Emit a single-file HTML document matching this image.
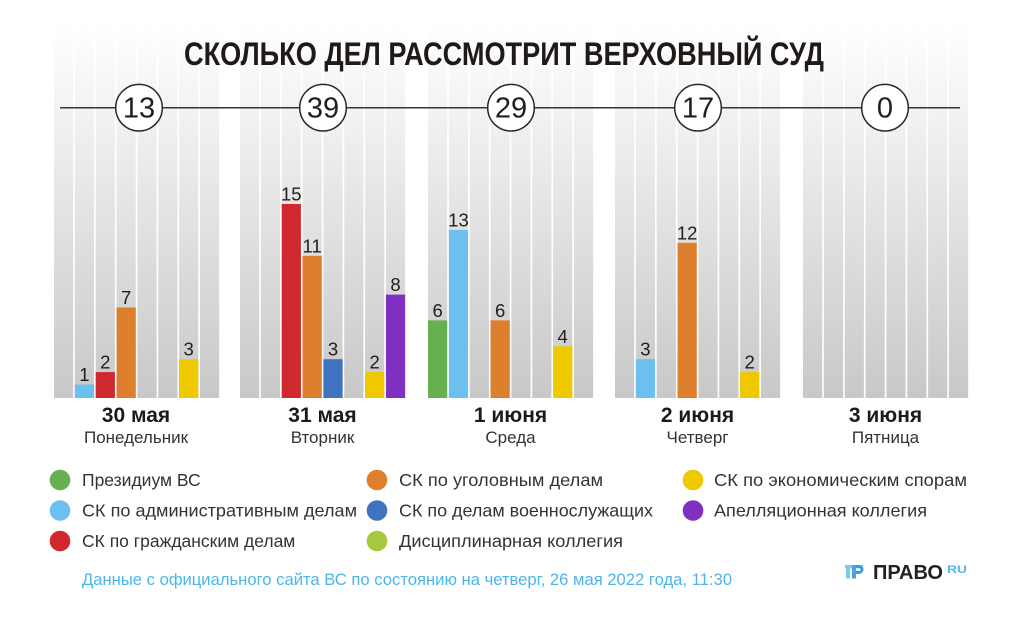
<!DOCTYPE html>
<html><head><meta charset="utf-8"><style>
html,body{margin:0;padding:0;background:#fff;}
svg{display:block;}
text{font-family:"Liberation Sans","Noto Sans CJK SC",sans-serif;}
</style></head><body>
<svg width="1024" height="622" viewBox="0 0 1024 622" xmlns="http://www.w3.org/2000/svg">
<defs>
<linearGradient id="bg" gradientUnits="userSpaceOnUse" x1="0" y1="24" x2="0" y2="398">
<stop offset="0" stop-color="#ffffff"/>
<stop offset="1" stop-color="#c8c8c8"/>
</linearGradient>
</defs>
<rect width="1024" height="622" fill="#fff"/>
<g fill="url(#bg)">
<rect x="54" y="24" width="19.2" height="374"/><rect x="74.85" y="24" width="19.2" height="374"/><rect x="95.7" y="24" width="19.2" height="374"/><rect x="116.55" y="24" width="19.2" height="374"/><rect x="137.4" y="24" width="19.2" height="374"/><rect x="158.25" y="24" width="19.2" height="374"/><rect x="179.1" y="24" width="19.2" height="374"/><rect x="199.95" y="24" width="19.2" height="374"/>
<rect x="240" y="24" width="19.2" height="374"/><rect x="260.85" y="24" width="19.2" height="374"/><rect x="281.7" y="24" width="19.2" height="374"/><rect x="302.55" y="24" width="19.2" height="374"/><rect x="323.4" y="24" width="19.2" height="374"/><rect x="344.25" y="24" width="19.2" height="374"/><rect x="365.1" y="24" width="19.2" height="374"/><rect x="385.95" y="24" width="19.2" height="374"/>
<rect x="428" y="24" width="19.2" height="374"/><rect x="448.85" y="24" width="19.2" height="374"/><rect x="469.7" y="24" width="19.2" height="374"/><rect x="490.55" y="24" width="19.2" height="374"/><rect x="511.4" y="24" width="19.2" height="374"/><rect x="532.25" y="24" width="19.2" height="374"/><rect x="553.1" y="24" width="19.2" height="374"/><rect x="573.95" y="24" width="19.2" height="374"/>
<rect x="615" y="24" width="19.2" height="374"/><rect x="635.85" y="24" width="19.2" height="374"/><rect x="656.7" y="24" width="19.2" height="374"/><rect x="677.55" y="24" width="19.2" height="374"/><rect x="698.4" y="24" width="19.2" height="374"/><rect x="719.25" y="24" width="19.2" height="374"/><rect x="740.1" y="24" width="19.2" height="374"/><rect x="760.95" y="24" width="19.2" height="374"/>
<rect x="803" y="24" width="19.2" height="374"/><rect x="823.85" y="24" width="19.2" height="374"/><rect x="844.7" y="24" width="19.2" height="374"/><rect x="865.55" y="24" width="19.2" height="374"/><rect x="886.4" y="24" width="19.2" height="374"/><rect x="907.25" y="24" width="19.2" height="374"/><rect x="928.1" y="24" width="19.2" height="374"/><rect x="948.95" y="24" width="19.2" height="374"/>
</g>

<text x="184" y="65" font-size="32" font-weight="bold" fill="#1f1a17" textLength="640" lengthAdjust="spacingAndGlyphs">СКОЛЬКО ДЕЛ РАССМОТРИТ ВЕРХОВНЫЙ СУД</text>

<line x1="60" y1="107.7" x2="960" y2="107.7" stroke="#3a3430" stroke-width="1.5"/>
<g fill="#fff" stroke="#2b2622" stroke-width="1.5">
<circle cx="139" cy="107.7" r="23.3"/>
<circle cx="323" cy="107.7" r="23.3"/>
<circle cx="511" cy="107.7" r="23.3"/>
<circle cx="698" cy="107.7" r="23.3"/>
<circle cx="885" cy="107.7" r="23.3"/>
</g>
<g font-size="29" fill="#221d1a" text-anchor="middle">
<text x="139" y="117.5">13</text>
<text x="323" y="117.5">39</text>
<text x="511" y="117.5">29</text>
<text x="698" y="117.5">17</text>
<text x="885" y="117.5">0</text>
</g>

<rect x="74.85" y="384.5" width="19.2" height="13.5" fill="#6cc0f0"/>
<rect x="95.7" y="372.1" width="19.2" height="25.9" fill="#d0282f"/>
<rect x="116.55" y="307.5" width="19.2" height="90.5" fill="#dd7f2c"/>
<rect x="179.1" y="359.2" width="19.2" height="38.8" fill="#eec900"/>

<rect x="281.7" y="204" width="19.2" height="194" fill="#d0282f"/>
<rect x="302.55" y="255.8" width="19.2" height="142.2" fill="#dd7f2c"/>
<rect x="323.4" y="359.2" width="19.2" height="38.8" fill="#3f73c0"/>
<rect x="365.1" y="372.1" width="19.2" height="25.9" fill="#eec900"/>
<rect x="385.95" y="294.6" width="19.2" height="103.4" fill="#8030c0"/>

<rect x="428" y="320.4" width="19.2" height="77.6" fill="#66b050"/>
<rect x="448.85" y="229.9" width="19.2" height="168.1" fill="#6cc0f0"/>
<rect x="490.55" y="320.4" width="19.2" height="77.6" fill="#dd7f2c"/>
<rect x="553.1" y="346.3" width="19.2" height="51.7" fill="#eec900"/>

<rect x="635.85" y="359.2" width="19.2" height="38.8" fill="#6cc0f0"/>
<rect x="677.55" y="242.8" width="19.2" height="155.2" fill="#dd7f2c"/>
<rect x="740.1" y="372.1" width="19.2" height="25.9" fill="#eec900"/>

<g font-size="18.5" fill="#221d1a" text-anchor="middle">
<text x="84.45" y="381">1</text>
<text x="105.3" y="368.6">2</text>
<text x="126.15" y="304">7</text>
<text x="188.7" y="355.7">3</text>
<text x="291.3" y="200.5">15</text>
<text x="312.15" y="252.3">11</text>
<text x="333" y="355.7">3</text>
<text x="374.7" y="368.6">2</text>
<text x="395.55" y="291.1">8</text>
<text x="437.6" y="316.9">6</text>
<text x="458.45" y="226.4">13</text>
<text x="500.15" y="316.9">6</text>
<text x="562.7" y="342.8">4</text>
<text x="645.45" y="355.7">3</text>
<text x="687.15" y="239.3">12</text>
<text x="749.7" y="368.6">2</text>
</g>

<g font-size="21" font-weight="bold" fill="#1f1a17" text-anchor="middle">
<text x="136" y="422">30 мая</text>
<text x="322.5" y="422">31 мая</text>
<text x="510.5" y="422">1 июня</text>
<text x="697.5" y="422">2 июня</text>
<text x="885.5" y="422">3 июня</text>
</g>
<g font-size="17" fill="#333" text-anchor="middle">
<text x="136" y="443">Понедельник</text>
<text x="322.5" y="443">Вторник</text>
<text x="510.5" y="443">Среда</text>
<text x="697.5" y="443">Четверг</text>
<text x="885.5" y="443">Пятница</text>
</g>

<circle cx="60" cy="480" r="10.3" fill="#66b050"/>
<circle cx="60" cy="510.5" r="10.3" fill="#6cc0f0"/>
<circle cx="60" cy="541" r="10.3" fill="#d0282f"/>
<circle cx="377" cy="480" r="10.3" fill="#dd7f2c"/>
<circle cx="377" cy="510.5" r="10.3" fill="#3f73c0"/>
<circle cx="377" cy="541" r="10.3" fill="#a5c93c"/>
<circle cx="693" cy="480" r="10.3" fill="#eec900"/>
<circle cx="693" cy="510.5" r="10.3" fill="#8030c0"/>
<g font-size="17.5" fill="#333">
<text x="82" y="486">Президиум ВС</text>
<text x="82" y="516.5" textLength="275" lengthAdjust="spacingAndGlyphs">СК по административным делам</text>
<text x="82" y="547">СК по гражданским делам</text>
<text x="399" y="486" textLength="204" lengthAdjust="spacingAndGlyphs">СК по уголовным делам</text>
<text x="399" y="516.5" textLength="254" lengthAdjust="spacingAndGlyphs">СК по делам военнослужащих</text>
<text x="399" y="547" textLength="224" lengthAdjust="spacingAndGlyphs">Дисциплинарная коллегия</text>
<text x="714" y="486" textLength="253" lengthAdjust="spacingAndGlyphs">СК по экономическим спорам</text>
<text x="714" y="516.5" textLength="213" lengthAdjust="spacingAndGlyphs">Апелляционная коллегия</text>
</g>

<text x="82" y="585" font-size="17" fill="#4cb6ec" textLength="650" lengthAdjust="spacingAndGlyphs">Данные с официального сайта ВС по состоянию на четверг, 26 мая 2022 года, 11:30</text>

<rect x="845" y="565" width="18" height="3.5" fill="#7fc8f2"/>
<rect x="846" y="565" width="4" height="13.5" fill="#7fc8f2"/>
<rect x="852" y="565" width="4" height="13.5" fill="#4aa3e6"/>
<path d="M856 565 h3 a4.5 4.5 0 0 1 0 9 h-3 v-3 h3 a1.5 1.5 0 0 0 0 -3 h-3 z" fill="#3d9be0"/>
<text x="873" y="579" font-size="20" font-weight="bold" fill="#222" textLength="70" lengthAdjust="spacingAndGlyphs">ПРАВО</text>
<text x="947" y="573" font-size="11" font-weight="bold" fill="#5ab4ec" textLength="20" lengthAdjust="spacingAndGlyphs">RU</text>
</svg>
</body></html>
